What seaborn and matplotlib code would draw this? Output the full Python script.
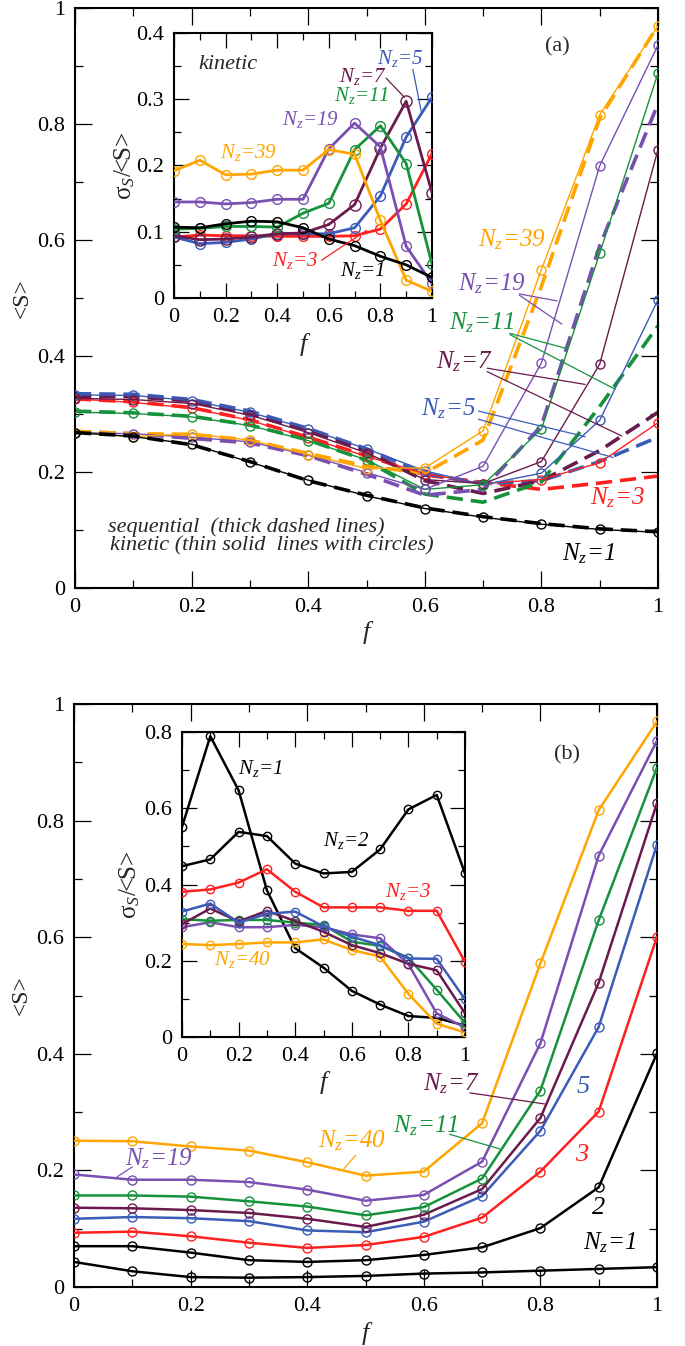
import numpy as np
import pandas as pd
import matplotlib
matplotlib.use("Agg")
import matplotlib.pyplot as plt
from matplotlib import font_manager as fm
from matplotlib.ticker import MultipleLocator, FuncFormatter
import seaborn as sns

# ---------------- data ----------------
f = [0.0, 0.1, 0.2, 0.3, 0.4, 0.5, 0.6, 0.7, 0.8, 0.9, 1.0]

# panel (a) main: kinetic (thin solid with circles)
kin_a_1 = [0.268, 0.261, 0.248, 0.217, 0.186, 0.159, 0.137, 0.122, 0.110, 0.101, 0.096]
kin_a_3 = [0.326, 0.320, 0.310, 0.289, 0.259, 0.227, 0.197, 0.180, 0.187, 0.216, 0.285]
kin_a_5 = [0.333, 0.332, 0.323, 0.303, 0.274, 0.240, 0.202, 0.178, 0.198, 0.289, 0.497]
kin_a_7 = [0.327, 0.325, 0.318, 0.298, 0.268, 0.233, 0.187, 0.180, 0.218, 0.386, 0.756]
kin_a_11 = [0.303, 0.301, 0.295, 0.280, 0.254, 0.221, 0.170, 0.178, 0.274, 0.577, 0.888]
kin_a_19 = [0.268, 0.266, 0.260, 0.252, 0.229, 0.199, 0.170, 0.210, 0.388, 0.728, 0.936]
kin_a_39 = [0.268, 0.261, 0.266, 0.255, 0.230, 0.206, 0.207, 0.271, 0.549, 0.816, 0.969]

# panel (a) main: sequential (thick dashed)
seq_a_1 = [0.268, 0.262, 0.247, 0.218, 0.185, 0.160, 0.138, 0.123, 0.111, 0.102, 0.097]
seq_a_3 = [0.326, 0.321, 0.311, 0.290, 0.260, 0.228, 0.195, 0.182, 0.170, 0.181, 0.193]
seq_a_5 = [0.335, 0.334, 0.325, 0.305, 0.275, 0.240, 0.197, 0.180, 0.185, 0.218, 0.260]
seq_a_7 = [0.330, 0.330, 0.322, 0.300, 0.272, 0.236, 0.185, 0.163, 0.185, 0.237, 0.303]
seq_a_11 = [0.305, 0.302, 0.296, 0.281, 0.255, 0.220, 0.162, 0.148, 0.183, 0.313, 0.452]
seq_a_19 = [0.270, 0.266, 0.258, 0.250, 0.228, 0.196, 0.160, 0.170, 0.280, 0.590, 0.835]
seq_a_39 = [0.270, 0.266, 0.265, 0.255, 0.232, 0.210, 0.198, 0.255, 0.520, 0.810, 0.970]

# panel (a) inset: sigma_S/<S>, kinetic
ia_1 = [0.107, 0.106, 0.112, 0.116, 0.115, 0.106, 0.089, 0.079, 0.063, 0.050, 0.031]
ia_3 = [0.092, 0.095, 0.094, 0.094, 0.093, 0.093, 0.093, 0.094, 0.104, 0.142, 0.218]
ia_5 = [0.092, 0.082, 0.084, 0.089, 0.097, 0.097, 0.097, 0.106, 0.154, 0.243, 0.303]
ia_7 = [0.094, 0.088, 0.089, 0.092, 0.097, 0.098, 0.111, 0.141, 0.226, 0.297, 0.159]
ia_11 = [0.104, 0.105, 0.108, 0.108, 0.107, 0.128, 0.143, 0.224, 0.260, 0.203, 0.051]
ia_19 = [0.145, 0.145, 0.142, 0.144, 0.149, 0.149, 0.225, 0.264, 0.228, 0.078, 0.022]
ia_39 = [0.192, 0.208, 0.186, 0.187, 0.193, 0.193, 0.224, 0.217, 0.117, 0.027, 0.010]

# panel (b) main
b_1 = [0.043, 0.027, 0.017, 0.016, 0.017, 0.019, 0.023, 0.025, 0.028, 0.031, 0.034]
b_2 = [0.070, 0.070, 0.059, 0.046, 0.043, 0.046, 0.055, 0.068, 0.101, 0.171, 0.401]
b_3 = [0.093, 0.095, 0.087, 0.076, 0.067, 0.072, 0.086, 0.119, 0.198, 0.301, 0.601]
b_5 = [0.117, 0.120, 0.118, 0.113, 0.097, 0.094, 0.112, 0.156, 0.268, 0.446, 0.759]
b_7 = [0.136, 0.135, 0.132, 0.127, 0.117, 0.103, 0.124, 0.168, 0.290, 0.522, 0.830]
b_11 = [0.157, 0.157, 0.155, 0.147, 0.138, 0.123, 0.137, 0.186, 0.337, 0.629, 0.891]
b_19 = [0.193, 0.184, 0.184, 0.180, 0.167, 0.148, 0.158, 0.215, 0.418, 0.740, 0.937]
b_40 = [0.251, 0.250, 0.241, 0.234, 0.214, 0.191, 0.198, 0.281, 0.555, 0.818, 0.970]

# panel (b) inset
ib_1 = [0.551, 0.789, 0.647, 0.385, 0.233, 0.182, 0.121, 0.085, 0.055, 0.050, 0.030]
ib_2 = [0.448, 0.466, 0.538, 0.527, 0.455, 0.429, 0.433, 0.492, 0.597, 0.635, 0.429]
ib_3 = [0.381, 0.387, 0.405, 0.440, 0.381, 0.340, 0.340, 0.340, 0.331, 0.331, 0.197]
ib_5 = [0.329, 0.350, 0.300, 0.323, 0.329, 0.290, 0.263, 0.241, 0.206, 0.205, 0.099]
ib_7 = [0.296, 0.337, 0.303, 0.331, 0.304, 0.276, 0.241, 0.220, 0.192, 0.175, 0.062]
ib_11 = [0.309, 0.305, 0.307, 0.307, 0.300, 0.294, 0.250, 0.239, 0.208, 0.124, 0.037]
ib_19 = [0.288, 0.301, 0.288, 0.288, 0.294, 0.288, 0.269, 0.259, 0.191, 0.062, 0.025]
ib_40 = [0.244, 0.241, 0.244, 0.248, 0.248, 0.256, 0.228, 0.211, 0.113, 0.035, 0.012]

# ---------------- style ----------------
sns.set_theme(style="ticks")

_names = {fe.name for fe in fm.fontManager.ttflist}
SERIF = "Liberation Serif" if "Liberation Serif" in _names else "DejaVu Serif"

plt.rcParams.update({
    "font.family": [SERIF, "DejaVu Serif"],
    "mathtext.fontset": "custom",
    "mathtext.rm": SERIF,
    "mathtext.it": SERIF + ":italic",
    "mathtext.bf": SERIF + ":bold",
    "axes.facecolor": "white",
    "figure.facecolor": "white",
})

BLACK = "#000000"
RED = "#ff2020"
BLUE = "#3b5cb8"
MAROON = "#6a1a4c"
GREEN = "#17923c"
PURPLE = "#7a4fb2"
ORANGE = "#ffa500"

W, H = 685, 1346
fig = plt.figure(figsize=(W / 100, H / 100), dpi=100)


def rect(x0, y0, x1, y1):
    return [x0 / W, 1 - y1 / H, (x1 - x0) / W, (y1 - y0) / H]


ax_a = fig.add_axes(rect(75, 8, 658, 588))
in_a = fig.add_axes(rect(174, 33, 432, 298))
ax_b = fig.add_axes(rect(74, 704, 657, 1287))
in_b = fig.add_axes(rect(182, 732, 465, 1037))

fmt = FuncFormatter(lambda v, _: f"{v:g}")


def style_axes(ax, ymax, ymaj, ymin, big=True):
    ax.set_xlim(0, 1)
    ax.set_ylim(0, ymax)
    ax.xaxis.set_major_locator(MultipleLocator(0.2))
    ax.xaxis.set_minor_locator(MultipleLocator(0.1))
    ax.yaxis.set_major_locator(MultipleLocator(ymaj))
    ax.yaxis.set_minor_locator(MultipleLocator(ymin))
    ax.xaxis.set_major_formatter(fmt)
    ax.yaxis.set_major_formatter(fmt)
    L = 12 if big else 10.5
    ax.tick_params(which="both", direction="in", top=True, right=True,
                   labelsize=16, width=0.9, colors="black", pad=7)
    ax.tick_params(which="major", length=L)
    ax.tick_params(which="minor", length=L / 2)
    for s in ax.spines.values():
        s.set_linewidth(1.5)
        s.set_color("black")
        s.set_visible(True)
    ax.grid(False)


def line(ax, y, color, lw, ms, mew=1.0, z=3):
    sns.lineplot(x=f, y=y, ax=ax, color=color, linewidth=lw, estimator=None,
                 legend=False, zorder=z, marker="o", markersize=ms,
                 markerfacecolor="none", markeredgecolor=color,
                 markeredgewidth=mew)


def nz(n):
    return r"$N_z$" + "=" + str(n)


# ---------- panel (a) main ----------
seq_series = [(seq_a_3, RED), (seq_a_5, BLUE), (seq_a_7, MAROON), (seq_a_11, GREEN),
              (seq_a_19, PURPLE), (seq_a_39, ORANGE)]
for y, c in seq_series:
    sns.lineplot(x=f, y=y, ax=ax_a, color=c, linewidth=2.6, estimator=None,
                 legend=False, linestyle=(0, (4.5, 2.2)), zorder=2)
kin_series = [(kin_a_3, RED), (kin_a_5, BLUE), (kin_a_7, MAROON), (kin_a_11, GREEN),
              (kin_a_19, PURPLE), (kin_a_39, ORANGE), (kin_a_1, BLACK)]
for y, c in kin_series:
    line(ax_a, y, c, 1.0, 6.5, mew=1.0, z=3)
sns.lineplot(x=f, y=seq_a_1, ax=ax_a, color=BLACK, linewidth=2.6, estimator=None,
             legend=False, linestyle=(0, (4.5, 2.2)), zorder=4)

style_axes(ax_a, 1.0, 0.2, 0.1, big=True)
ax_a.set_xlabel("f", fontsize=19, style="italic", va="center")
ax_a.xaxis.set_label_coords(0.5, -0.076)
ax_a.set_ylabel("<S>", fontsize=17, va="center")
ax_a.yaxis.set_label_coords(-0.091, 0.5)

tk = dict(fontsize=18, ha="center", va="center", style="italic")
ax_a.text(0.828, 0.933, "(a)", fontsize=16, ha="center", va="center")
ax_a.text(0.75, 0.60, nz(39), color=ORANGE, **tk)
ax_a.text(0.715, 0.524, nz(19), color=PURPLE, **tk)
ax_a.text(0.697, 0.458, nz(11), color=GREEN, **tk)
ax_a.text(0.668, 0.390, nz(7), color=MAROON, **tk)
ax_a.text(0.640, 0.309, nz(5), color=BLUE, **tk)
ax_a.text(0.930, 0.155, nz(3), color=RED, **tk)
ax_a.text(0.880, 0.060, nz(1), color=BLACK, **tk)

leaders_a = [
    ((0.762, 0.507), (0.827, 0.495), PURPLE),
    ((0.762, 0.505), (0.835, 0.455), PURPLE),
    ((0.746, 0.439), (0.843, 0.413), GREEN),
    ((0.746, 0.437), (0.926, 0.343), GREEN),
    ((0.707, 0.379), (0.875, 0.351), MAROON),
    ((0.707, 0.373), (0.938, 0.262), MAROON),
    ((0.692, 0.305), (0.875, 0.261), BLUE),
    ((0.692, 0.291), (0.923, 0.225), BLUE),
]
for p0, p1, c in leaders_a:
    ax_a.annotate("", xy=p1, xytext=p0,
                  arrowprops=dict(arrowstyle="-", color=c, lw=0.9,
                                  shrinkA=0, shrinkB=0))

ax_a.text(0.057, 0.105, "sequential  (thick dashed lines)", fontsize=16,
          style="italic", ha="left", va="center")
ax_a.text(0.060, 0.072, "kinetic (thin solid  lines with circles)", fontsize=16,
          style="italic", ha="left", va="center")

# ---------- panel (a) inset ----------
in_series = [(ia_3, RED, 7), (ia_5, BLUE, 7), (ia_7, MAROON, 8), (ia_11, GREEN, 7),
             (ia_19, PURPLE, 7), (ia_39, ORANGE, 7), (ia_1, BLACK, 7)]
for y, c, ms in in_series:
    line(in_a, y, c, 2.0, ms, mew=1.0, z=3)
style_axes(in_a, 0.4, 0.1, 0.05, big=False)
in_a.set_xlabel("f", fontsize=19, style="italic", va="center")
in_a.xaxis.set_label_coords(0.5, -0.177)
in_a.set_ylabel(r"σ$_S$/<S>", fontsize=18, va="center")
in_a.yaxis.set_label_coords(-0.19, 0.5)

ti = dict(fontsize=15, ha="center", va="center", style="italic")
in_a.text(0.093, 0.353, "kinetic", fontsize=16, style="italic", ha="left", va="center")
in_a.text(0.29, 0.220, nz(39), color=ORANGE, **ti)
in_a.text(0.53, 0.270, nz(19), color=PURPLE, **ti)
in_a.text(0.725, 0.305, nz(11), color=GREEN, **ti)
in_a.text(0.73, 0.335, nz(7), color=MAROON, **ti)
in_a.text(0.875, 0.362, nz(5), color=BLUE, **ti)
in_a.text(0.47, 0.057, nz(3), color=RED, **ti)
in_a.text(0.73, 0.041, nz(1), color=BLACK, **ti)
for p0, p1, c in [((0.822, 0.332), (0.893, 0.303), MAROON),
                  ((0.926, 0.345), (0.958, 0.282), BLUE),
                  ((0.572, 0.057), (0.746, 0.102), RED)]:
    in_a.annotate("", xy=p1, xytext=p0,
                  arrowprops=dict(arrowstyle="-", color=c, lw=0.9,
                                  shrinkA=0, shrinkB=0))

# ---------- panel (b) main ----------
b_series = [(b_1, BLACK), (b_2, BLACK), (b_3, RED), (b_5, BLUE), (b_7, MAROON),
            (b_11, GREEN), (b_19, PURPLE), (b_40, ORANGE)]
for y, c in b_series:
    line(ax_b, y, c, 1.8, 6.5, mew=1.0, z=3)
style_axes(ax_b, 1.0, 0.2, 0.1, big=True)
ax_b.set_xlabel("f", fontsize=19, style="italic", va="center")
ax_b.xaxis.set_label_coords(0.5, -0.079)
ax_b.set_ylabel("<S>", fontsize=17, va="center")
ax_b.yaxis.set_label_coords(-0.091, 0.5)

ax_b.text(0.845, 0.912, "(b)", fontsize=16, ha="center", va="center")
ax_b.text(0.476, 0.251, nz(40), color=ORANGE, **tk)
ax_b.text(0.145, 0.220, nz(19), color=PURPLE, **tk)
ax_b.text(0.603, 0.277, nz(11), color=GREEN, **tk)
ax_b.text(0.647, 0.349, nz(7), color=MAROON, **tk)
ax_b.text(0.873, 0.343, "5", color=BLUE, fontsize=19, style="italic", ha="center", va="center")
ax_b.text(0.870, 0.227, "3", color=RED, fontsize=19, style="italic", ha="center", va="center")
ax_b.text(0.899, 0.135, "2", color=BLACK, fontsize=19, style="italic", ha="center", va="center")
ax_b.text(0.919, 0.076, nz(1), color=BLACK, **tk)
for p0, p1, c in [((0.483, 0.226), (0.463, 0.203), ORANGE),
                  ((0.100, 0.206), (0.074, 0.189), PURPLE),
                  ((0.644, 0.262), (0.730, 0.237), GREEN),
                  ((0.679, 0.333), (0.807, 0.314), MAROON)]:
    ax_b.annotate("", xy=p1, xytext=p0,
                  arrowprops=dict(arrowstyle="-", color=c, lw=0.9,
                                  shrinkA=0, shrinkB=0))

# ---------- panel (b) inset ----------
ib_series = [(ib_1, BLACK), (ib_2, BLACK), (ib_3, RED), (ib_40, ORANGE), (ib_19, PURPLE),
             (ib_11, GREEN), (ib_7, MAROON), (ib_5, BLUE)]
for y, c in ib_series:
    line(in_b, y, c, 1.8, 6.0, mew=1.0, z=3)
style_axes(in_b, 0.8, 0.2, 0.1, big=False)
in_b.set_xlabel("f", fontsize=19, style="italic", va="center")
in_b.xaxis.set_label_coords(0.5, -0.15)
in_b.set_ylabel(r"σ$_S$/<S>", fontsize=18, va="center")
in_b.yaxis.set_label_coords(-0.184, 0.5)

in_b.text(0.277, 0.704, nz(1), color=BLACK, **ti)
in_b.text(0.580, 0.516, nz(2), color=BLACK, **ti)
in_b.text(0.800, 0.381, nz(3), color=RED, **ti)
in_b.text(0.215, 0.202, nz(40), color=ORANGE, **ti)

fig.savefig("out.png", dpi=100, facecolor="white")
